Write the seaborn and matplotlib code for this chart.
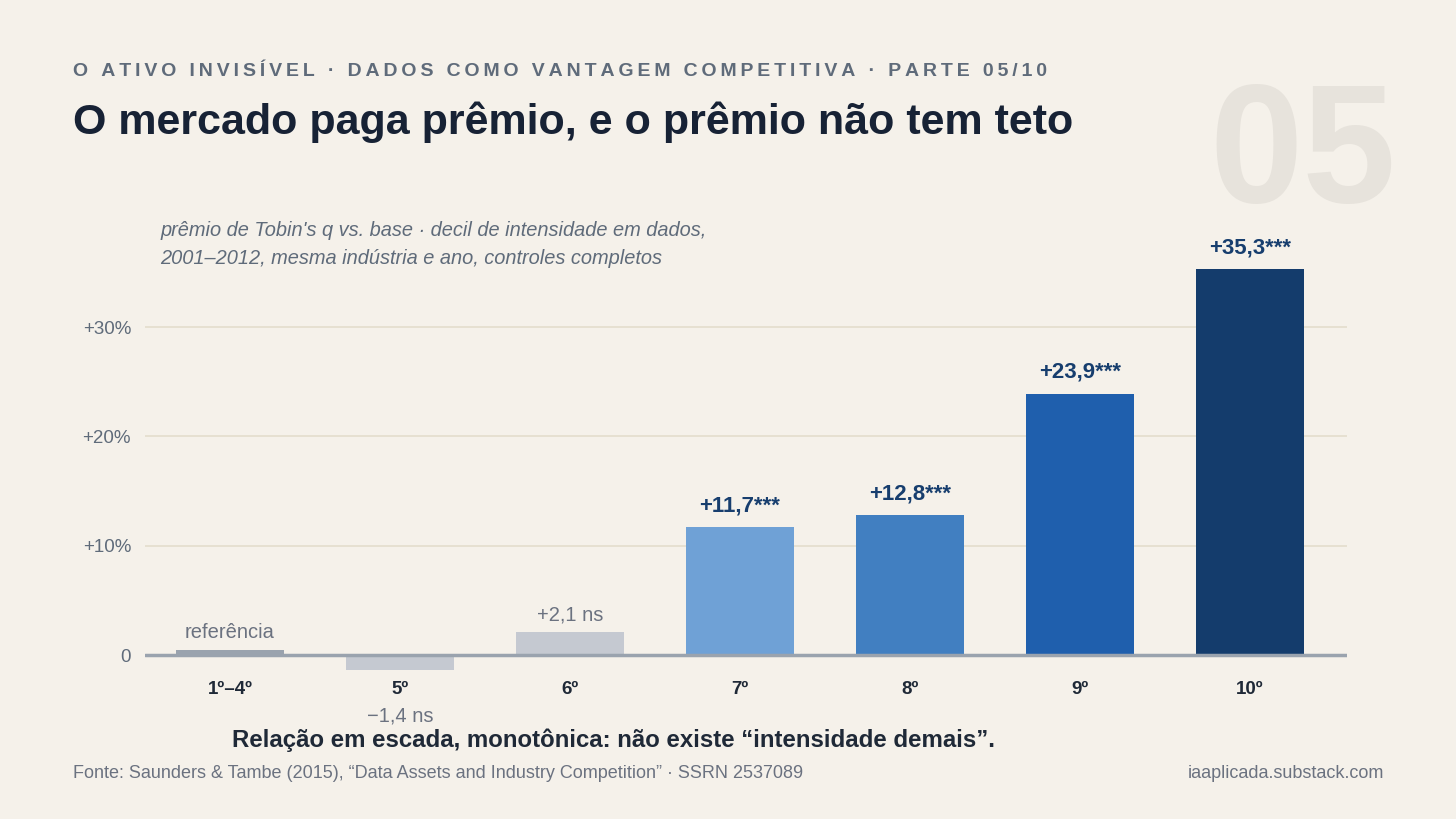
import pandas as pd
import numpy as np
import seaborn as sns
import matplotlib.pyplot as plt

# dados
decis = ['1º–4º', '5º', '6º', '7º', '8º', '9º', '10º']
premio = [0.0, -1.4, 2.1, 11.7, 12.8, 23.9, 35.3]
rotulos = ['referência', '−1,4 ns', '+2,1 ns', '+11,7***', '+12,8***', '+23,9***', '+35,3***']
signif = [False, False, False, True, True, True, True]
cores = ['#9aa3ae', '#c5c9d1', '#c5c9d1', '#6fa1d6', '#417fc1', '#1f5fad', '#143c6c']
yticks = [0, 10, 20, 30]
ytick_labels = ['0', '+10%', '+20%', '+30%']
ref_altura = 0.5  # marcador visual da base

df = pd.DataFrame({'Decil': decis, 'Premio': premio})
df['Altura'] = df['Premio']
df.loc[0, 'Altura'] = ref_altura

bg = '#f5f1ea'
sns.set_style('white')
plt.rcParams['font.family'] = ['Liberation Sans', 'DejaVu Sans']

fig = plt.figure(figsize=(14.56, 8.19), dpi=100, facecolor=bg)
# eixo: zero em y=655 px, 10 pontos = ~109 px
ylo, yhi = -1.5, 40
px10 = 109.3
bottom_px = 655 + (-ylo) * px10 / 10
h_px = (yhi - ylo) * px10 / 10
ax = fig.add_axes([145 / 1456, (819 - bottom_px) / 819, 1202 / 1456, h_px / 819])
ax.set_facecolor(bg)

sns.barplot(data=df, x='Decil', y='Altura', hue='Decil', palette=cores,
            width=0.64, legend=False, saturation=1, linewidth=0, ax=ax, zorder=3)

ax.set_xlim(-0.5, 6.57)
ax.set_ylim(ylo, yhi)
ax.set_yticks(yticks)
ax.set_yticklabels(ytick_labels)
for y in yticks[1:]:
    ax.axhline(y, color='#e5dfcf', lw=1.3, zorder=1)
ax.axhline(0, color='#9aa3ae', lw=2.5, zorder=4)
sns.despine(ax=ax, left=True, bottom=True)
ax.tick_params(axis='y', length=0, pad=10, labelsize=13.5, labelcolor='#5f6b7a')
ax.tick_params(axis='x', length=0, pad=7, labelsize=13.5, labelcolor='#1f2937')
for t in ax.get_xticklabels():
    t.set_fontweight('bold')
ax.set_xlabel('')
ax.set_ylabel('')

for i, (v, lab, s) in enumerate(zip(premio, rotulos, signif)):
    if s:
        ax.text(i, v + 1.0, lab, ha='center', va='bottom', fontsize=16,
                fontweight='bold', color='#173e6e', zorder=5)
    elif v < 0:
        ax.text(i, -5.6, lab, ha='center', va='center', fontsize=14.5,
                color='#6b7280', clip_on=False)
    else:
        h = max(v, ref_altura)
        ax.text(i, h + 0.7, lab, ha='center', va='bottom', fontsize=14.5,
                color='#6b7280', zorder=5)

fig.text(160 / 1456, 1 - 231 / 819, 'prêmio de Tobin\'s q vs. base · decil de intensidade em dados,',
         ha='left', va='center', fontsize=14.4, style='italic', color='#5f6b7a')
fig.text(160 / 1456, 1 - 258 / 819, '2001–2012, mesma indústria e ano, controles completos',
         ha='left', va='center', fontsize=14.4, style='italic', color='#5f6b7a')

# cabeçalho
kicker = 'O ATIVO INVISÍVEL · DADOS COMO VANTAGEM COMPETITIVA · PARTE 05/10'
fig.text(73 / 1456, 1 - 71 / 819, '\u2009'.join(kicker), ha='left', va='center',
         fontsize=14, fontweight='bold', color='#5f6b7a')
fig.text(73 / 1456, 1 - 122 / 819, 'O mercado paga prêmio, e o prêmio não tem teto',
         ha='left', va='center', fontsize=31, fontweight='bold', color='#172235')
fig.text(1396 / 1456, 1 - 158 / 819, '05', ha='right', va='center',
         fontsize=121, fontweight='bold', color='#e7e3dc', zorder=0)

# rodapé
fig.text(232 / 1456, 1 - 740 / 819,
         'Relação em escada, monotônica: não existe “intensidade demais”.',
         ha='left', va='center', fontsize=17.3, fontweight='bold', color='#1f2937')
fig.text(73 / 1456, 1 - 773 / 819,
         'Fonte: Saunders & Tambe (2015), “Data Assets and Industry Competition” · SSRN 2537089',
         ha='left', va='center', fontsize=13, color='#6b7280')
fig.text(1384 / 1456, 1 - 773 / 819, 'iaaplicada.substack.com',
         ha='right', va='center', fontsize=13, color='#6b7280')

fig.savefig('out.png', dpi=100, facecolor=bg)
